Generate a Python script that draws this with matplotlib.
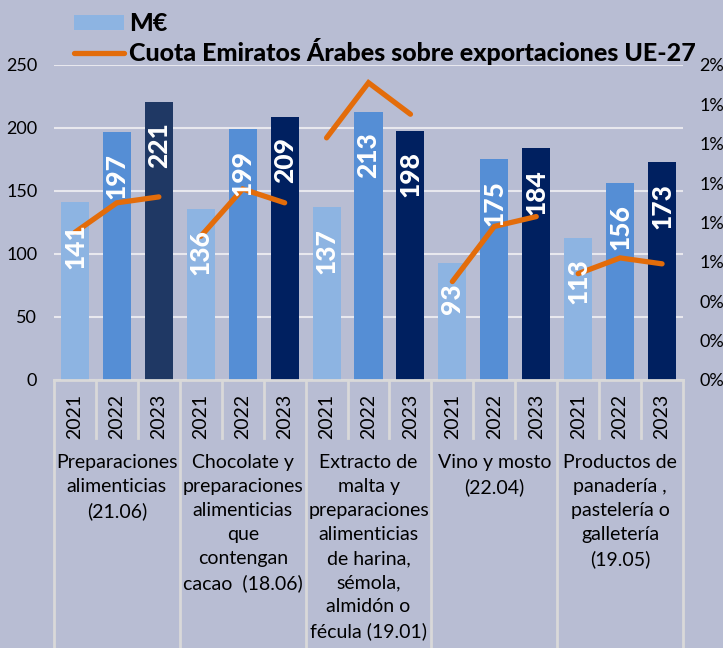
import matplotlib.pyplot as plt
from matplotlib.patches import Patch
from matplotlib.lines import Line2D
from matplotlib.ticker import FuncFormatter
import matplotlib.transforms as mtransforms
import numpy as np

plt.rcParams['font.family'] = ['Lato', 'DejaVu Sans']

years = ['2021', '2022', '2023']
groups = ['Preparaciones\nalimenticias\n(21.06)',
          'Chocolate y\npreparaciones\nalimenticias\nque\ncontengan\ncacao  (18.06)',
          'Extracto de\nmalta y\npreparaciones\nalimenticias\nde harina,\nsémola,\nalmidón o\nfécula (19.01)',
          'Vino y mosto\n(22.04)',
          'Productos de\npanadería ,\npastelería o\ngalletería\n(19.05)']
# M€ por grupo y año
valores = [[141, 197, 221],
           [136, 199, 209],
           [137, 213, 198],
           [93, 175, 184],
           [113, 156, 173]]
# cuota EAU sobre exportaciones UE-27 (%)
cuota = [[0.75, 0.90, 0.93],
         [0.73, 0.97, 0.90],
         [1.23, 1.51, 1.35],
         [0.50, 0.78, 0.83],
         [0.54, 0.62, 0.59]]

bg = '#B8BDD3'
year_colors = ['#8DB4E2', '#558ED5', '#002060']
orange = '#E36C0A'
grid_col = '#E8E8EE'
sep_col = '#D9D9D9'

fig = plt.figure(figsize=(7.23, 6.48), dpi=100, facecolor=bg)
ax = fig.add_axes([0.0747, 0.4136, 0.870, 0.4861])
ax.set_facecolor(bg)
ax2 = ax.twinx()

n = len(years)
xpos = []
for g, vals in enumerate(valores):
    x = [g * n + i for i in range(n)]
    xpos += x
    cols = list(year_colors)
    if g == 0:
        cols[2] = '#1F3864'
    ax.bar(x, vals, width=0.67, color=cols, zorder=2)
    ax2.plot(x, cuota[g], color=orange, lw=3.8, solid_capstyle='round',
             solid_joinstyle='miter', zorder=3)
    for xi, v in zip(x, vals):
        ax2.annotate(str(v), xy=(xi, v), xycoords=ax.transData,
                     xytext=(0, -15), textcoords='offset points',
                     rotation=90, ha='center', va='top', color='white',
                     fontsize=19, fontweight='black', zorder=5)

ax.set_xlim(-0.5, len(xpos) - 0.5)
ax.set_ylim(0, 250)
ax.set_yticks(range(0, 251, 50))
ax.yaxis.grid(True, color=grid_col, lw=1.5, zorder=0)
ax.set_axisbelow(True)
ax.set_xticks(xpos)
ax.set_xticklabels(years * len(groups), rotation=90, fontsize=14)
ax.tick_params(axis='x', length=0, pad=10)
ax.tick_params(axis='y', length=0, pad=12, labelsize=13)

ax2.set_ylim(0, 1.6)
ax2.set_yticks(np.linspace(0, 1.6, 9))
ax2.yaxis.set_major_formatter(FuncFormatter(lambda v, p: f'{v / 100:.0%}'))
ax2.tick_params(axis='y', length=0, pad=12, labelsize=13)

for a in (ax, ax2):
    for s in ['top', 'left', 'right', 'bottom']:
        a.spines[s].set_visible(False)

trans = mtransforms.blended_transform_factory(ax.transData, ax.transAxes)
ax.plot([-0.5, len(xpos) - 0.5], [0, 0], transform=trans, color=sep_col,
        lw=2, clip_on=False, zorder=4)
for k in range(len(xpos) + 1):
    xb = k - 0.5
    low = -0.851 if k % n == 0 else -0.184
    ax.plot([xb, xb], [0, low], transform=trans, color=sep_col, lw=2,
            clip_on=False)

for g, label in enumerate(groups):
    ax.text(g * n + 1, -0.235, label, transform=trans, ha='center', va='top',
            fontsize=14, linespacing=1.5, multialignment='center')

handles = [Patch(facecolor=year_colors[0], edgecolor='none'),
           Line2D([], [], color=orange, lw=3.8, solid_capstyle='round')]
fig.legend(handles, ['M€', 'Cuota Emiratos Árabes sobre exportaciones UE-27'],
           loc='upper left', bbox_to_anchor=(0.078, 1.008), frameon=False,
           prop={'weight': 'black', 'size': 18}, handlelength=2.0,
           handleheight=0.5, handletextpad=0.2, labelspacing=0.1,
           borderpad=0.2)

plt.savefig('out.png', dpi=100, facecolor=bg)
